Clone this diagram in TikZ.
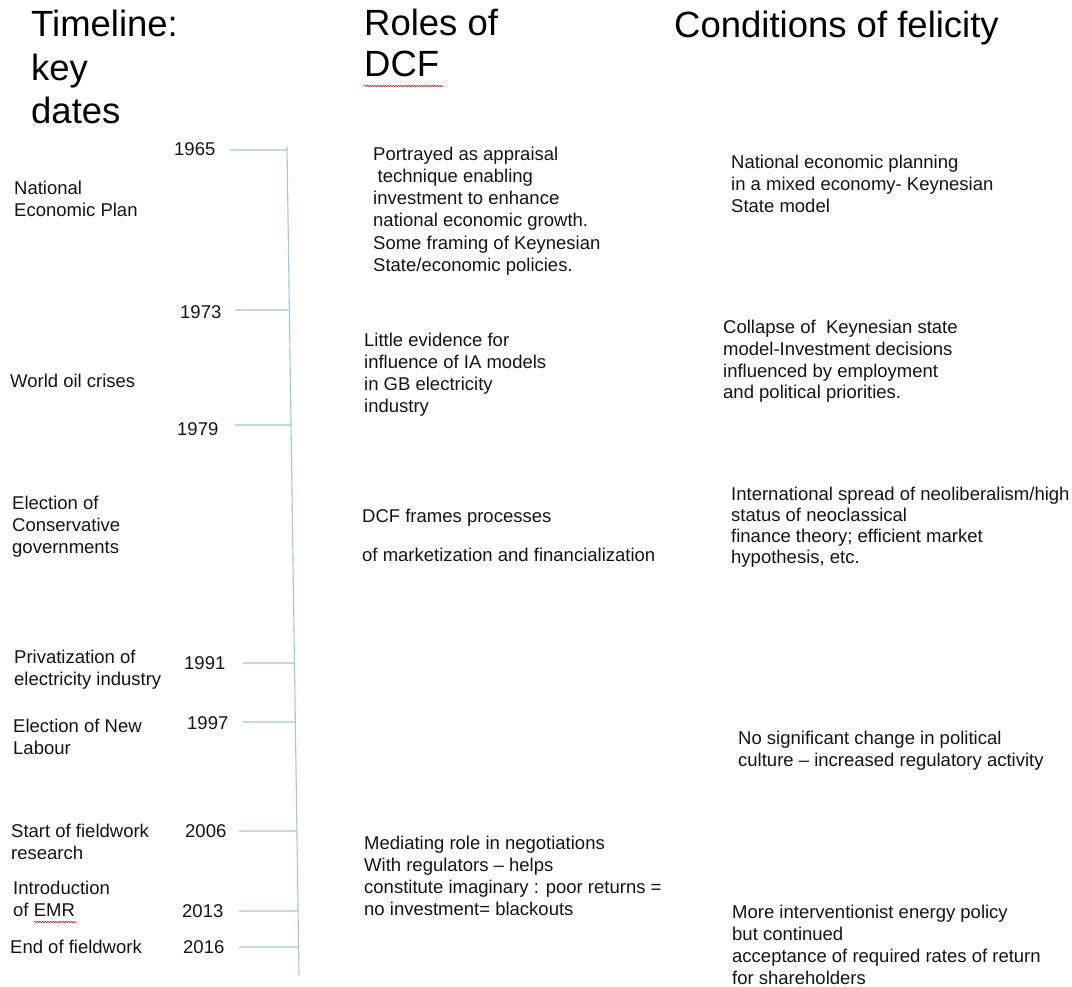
\documentclass[tikz,border=0pt]{standalone}
\usepackage{fontspec}
\setmainfont{Liberation Sans}
\usetikzlibrary{calc,decorations.pathmorphing}
\definecolor{tl}{RGB}{162,200,213}
\definecolor{txt}{RGB}{20,20,20}
\tikzset{
  body/.style={anchor=base west, inner sep=0pt, align=left, text=txt, font=\fontsize{18.5}{22}\selectfont},
  tight/.style={font=\fontsize{18.5}{21}\selectfont},
  heading/.style={anchor=base west, inner sep=0pt, align=left, text=black, font=\fontsize{36.5}{43.5}\selectfont},
  yearlbl/.style={anchor=base west, inner sep=0pt, text=txt, font=\fontsize{18.5}{22}\selectfont},
  tickline/.style={draw=tl, line width=1.1pt},
  squiggle/.style={draw=red!85!black, line width=0.6pt, decorate, decoration={snake, amplitude=0.6pt, segment length=2.6pt}}
}
\begin{document}
\begin{tikzpicture}[x=1pt,y=-1pt]
\useasboundingbox (0,0) rectangle (1072,987);
\fill[white] (0,0) rectangle (1072,987);

% headings (anchor = baseline of the last line)
\node[heading] (hTime) at (31,124) {Timeline:\\key\\dates};
\node[heading, font=\fontsize{36.5}{41}\selectfont] (hRoles) at (364,77) {Roles of\\DCF};
\node[heading] (hCond) at (674,38) {Conditions of felicity};
\coordinate (sqA) at (364,86);
\coordinate (sqB) at (443,86);
\draw[squiggle] (sqA) -- (sqB);

% timeline axis
\coordinate (axTop) at (287,147);
\coordinate (axBot) at (299,975);
\draw[tickline] (axTop) -- (axBot);

% ticks: start points and ends on the axis
\coordinate (s1965) at (230,150);
\coordinate (s1973) at (235,310);
\coordinate (s1979) at (235,425);
\coordinate (s1991) at (243,663);
\coordinate (s1997) at (243,722);
\coordinate (s2006) at (239,831);
\coordinate (s2013) at (239,911);
\coordinate (s2016) at (239,947);
\foreach \yr/\yy in {1965/150,1973/310,1979/425,1991/663,1997/722,2006/831,2013/911,2016/947}{
  \coordinate (e\yr) at ($(axTop)!{(\yy-147)/828}!(axBot)$);
  \draw[tickline] (s\yr) -- (e\yr);
}

% years
\node[yearlbl] (y1965) at (174,156) {1965};
\node[yearlbl] (y1973) at (180,319) {1973};
\node[yearlbl] (y1979) at (177,435) {1979};
\node[yearlbl] (y1991) at (184,669) {1991};
\node[yearlbl] (y1997) at (187,729) {1997};
\node[yearlbl] (y2006) at (185,837) {2006};
\node[yearlbl] (y2013) at (182,917) {2013};
\node[yearlbl] (y2016) at (183,953) {2016};

% events
\node[body] (evNEP) at (14,217) {National\\Economic Plan};
\node[body] (evOil) at (10,387) {World oil crises};
\node[body] (evCons) at (12,553) {Election of\\Conservative\\governments};
\node[body] (evPriv) at (14,685) {Privatization of\\electricity industry};
\node[body] (evLab) at (13,754) {Election of New\\Labour};
\node[body] (evStart) at (11,859) {Start of fieldwork\\research};
\node[body] (evEMR) at (13,916) {Introduction\\of EMR};
\node[body] (evEnd) at (10,953) {End of fieldwork};
\coordinate (sqC) at (34,922);
\coordinate (sqD) at (76,922);
\draw[squiggle] (sqC) -- (sqD);

% roles of DCF
\node[body, font=\fontsize{18.5}{22.3}\selectfont] (r1) at (373,271.5) {Portrayed as appraisal\\\hspace*{4.5pt}technique enabling\\investment to enhance\\national economic growth.\\Some framing of Keynesian\\State/economic policies.};
\node[body] (r2) at (364,412) {Little evidence for\\influence of IA models\\in GB electricity\\industry};
\node[body] (r3) at (362,561) {DCF frames processes\\[17pt]of marketization and financialization};
\node[body] (r4) at (364,915) {Mediating role in negotiations\\With regulators -- helps\\constitute imaginary : poor returns =\\no investment= blackouts};

% conditions of felicity
\node[body] (c1) at (731,213) {National economic planning\\in a mixed economy- Keynesian\\State model};
\node[body, font=\fontsize{18.5}{21.7}\selectfont] (c2) at (723,399) {Collapse of\ \ Keynesian state\\model-Investment decisions\\influenced by employment\\and political priorities.};
\node[body, tight] (c3) at (731,563) {International spread of neoliberalism/high\\status of neoclassical\\finance theory; efficient market\\hypothesis, etc.};
\node[body] (c4) at (738,766) {No significant change in political\\culture -- increased regulatory activity};
\node[body] (c5) at (732,984) {More interventionist energy policy\\but continued\\acceptance of required rates of return\\for shareholders};
\end{tikzpicture}
\end{document}
